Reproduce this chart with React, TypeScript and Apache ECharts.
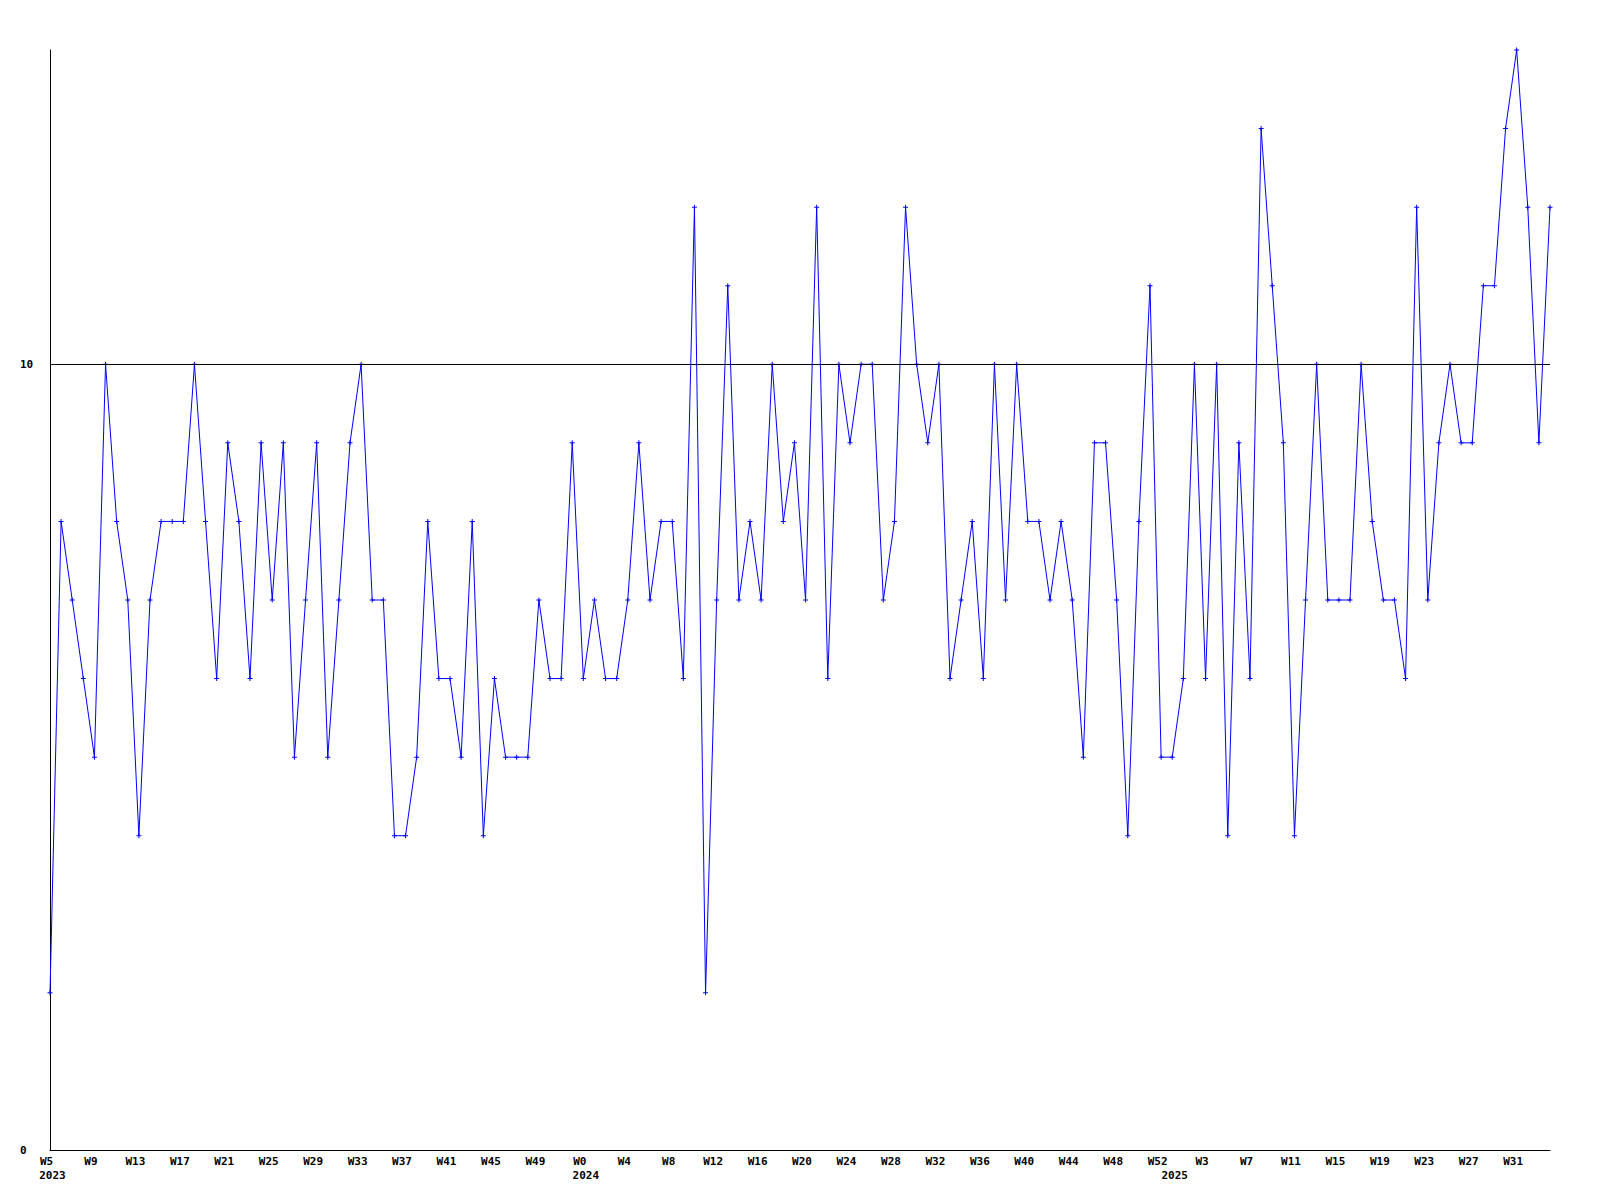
import React, { useEffect, useRef } from "react";
import * as echarts from "echarts";

// Weekly values
const years = [2023, 2024, 2025];
const firstWeeks = [5, 0, 0];
const values2023 = [
  2, 8, 7, 6, 5, 10, 8, 7, 4, 7, 8, 8, 8, 10, 8, 6, 9, 8, 6, 9, 7, 9, 5, 7, 9, 5, 7, 9, 10, 7, 7, 4,
  4, 5, 8, 6, 6, 5, 8, 4, 6, 5, 5, 5, 7, 6, 6, 9,
];
const values2024 = [
  6, 7, 6, 6, 7, 9, 7, 8, 8, 6, 12, 2, 7, 11, 7, 8, 7, 10, 8, 9, 7, 12, 6, 10, 9, 10, 10, 7, 8, 12, 10,
  9, 10, 6, 7, 8, 6, 10, 7, 10, 8, 8, 7, 8, 7, 5, 9, 9, 7, 4, 8, 11, 5,
];
const values2025 = [
  5, 6, 10, 6, 10, 4, 9, 6, 13, 11, 9, 4, 7, 10, 7, 7, 7, 10, 8, 7, 7, 6, 12, 7, 9, 10, 9, 9, 11, 11,
  13, 14, 12, 9, 12,
];
const yearValues = [values2023, values2024, values2025];
const referenceLine = 10;
const yMin = 0;
const yMax = 14;
const yInterval = 10;
const labelEvery = 4;

export default function App() {
  const ref = useRef<HTMLDivElement>(null);

  useEffect(() => {
    if (!ref.current) return;
    const chart = echarts.init(ref.current, undefined, { renderer: "svg" });

    const weeks: string[] = [];
    const yearOf: number[] = [];
    const values: number[] = [];
    const yearStart: Record<number, number> = {};
    years.forEach((y, yi) => {
      const vals = yearValues[yi];
      vals.forEach((v, i) => {
        if (i === 0) yearStart[weeks.length] = y;
        weeks.push("W" + (firstWeeks[yi] + i));
        yearOf.push(y);
        values.push(v);
      });
    });

    const font = {
      fontFamily: "DejaVu Sans Mono",
      fontWeight: "bold" as const,
      fontSize: 11,
      color: "#000",
    };

    chart.setOption({
      animation: false,
      backgroundColor: "#fff",
      grid: { left: 50, right: 50, top: 50, bottom: 50, containLabel: false },
      xAxis: [
        {
          type: "category",
          data: weeks,
          boundaryGap: false,
          axisLine: { show: true, lineStyle: { color: "#000", width: 1 } },
          axisTick: { show: false },
          splitLine: { show: false },
          axisLabel: {
            ...font,
            margin: 6,
            padding: [0, 7, 0, 0],
            interval: (index: number) => index % labelEvery === 0,
          },
        },
        {
          type: "category",
          data: weeks,
          position: "bottom",
          boundaryGap: false,
          axisLine: { show: false },
          axisTick: { show: false },
          splitLine: { show: false },
          axisLabel: {
            ...font,
            margin: 20,
            padding: [0, 0, 0, 5],
            interval: (index: number) => yearStart[index] !== undefined,
            formatter: (_v: string, index: number) => String(yearOf[index]),
          },
        },
      ],
      yAxis: {
        type: "value",
        min: yMin,
        max: yMax,
        interval: yInterval,
        axisLine: { show: true, lineStyle: { color: "#000", width: 1 } },
        axisTick: { show: false },
        splitLine: { show: false },
        axisLabel: {
          ...font,
          align: "left",
          margin: 30,
          showMaxLabel: false,
          formatter: (v: number) => (v % yInterval === 0 ? String(v) : ""),
        },
      },
      series: [
        {
          type: "line",
          data: values,
          xAxisIndex: 0,
          symbol: "path://M2 0H3V2H5V3H3V5H2V3H0V2H2Z",
          symbolSize: 5,
          showSymbol: true,
          lineStyle: { color: "#0000ff", width: 1 },
          itemStyle: { color: "#0000ff" },
          markLine: {
            silent: true,
            symbol: "none",
            label: { show: false },
            lineStyle: { color: "#000", type: "solid", width: 1 },
            data: [{ yAxis: referenceLine }],
          },
        },
      ],
    });

    return () => chart.dispose();
  }, []);

  return (
    <div
      ref={ref}
      style={{ position: "fixed", left: 0, top: 0, width: 1600, height: 1200, background: "#fff" }}
    />
  );
}
